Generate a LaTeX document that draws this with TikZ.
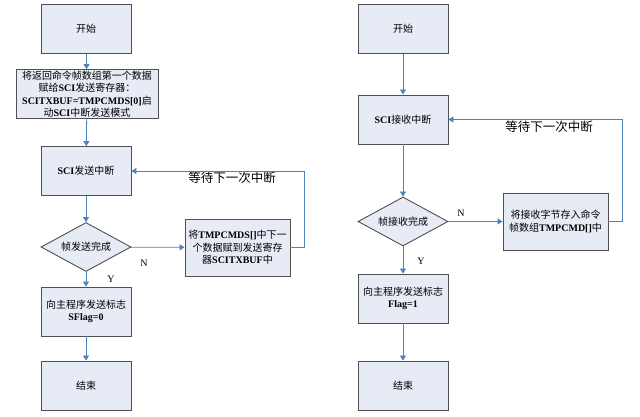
\documentclass[tikz,border=0pt]{standalone}
\usepackage{fontspec}
\setmainfont{Liberation Serif}
\newfontfamily\cjk{Noto Sans CJK SC}
\usetikzlibrary{shapes.geometric,arrows.meta}
\newcommand{\C}[1]{{\cjk\mdseries #1}}
\definecolor{boxfill}{HTML}{E6EBF5}
\definecolor{boxdraw}{HTML}{505050}
\definecolor{arrowblue}{HTML}{4F81BD}
\begin{document}
\begin{tikzpicture}[x=1pt,y=-1pt,
  every node/.style={font=\fontsize{10}{12.5}\selectfont\bfseries},
  pbox/.style={draw=boxdraw,fill=boxfill,line width=0.9pt,rectangle,inner sep=1pt,align=center},
  sbox/.style={pbox,minimum width=90pt,minimum height=49pt},
  dbox/.style={draw=boxdraw,fill=boxfill,line width=0.9pt,diamond,aspect=1.8,inner sep=0pt,minimum width=90pt,minimum height=49pt},
  arr/.style={draw=arrowblue,line width=0.8pt,-{Triangle[width=6pt,length=5pt]}},
  lbl/.style={font=\fontsize{12.5}{14}\selectfont},
  yn/.style={font=\fontsize{10}{12}\selectfont}
]
\useasboundingbox (0,0) rectangle (640,417);
% ---------- left flow ----------
\node[sbox] (ls) at (86,29) {\C{开始}};
\node[pbox,minimum width=142pt,minimum height=48pt,text width=138pt] (l2) at (87,94)
  {\C{将返回命令帧数组第一个数据}\\ \C{赋给}SCI\C{发送寄存器：}\\ SCITXBUF=TMPCMDS[0]\C{启}\\ \C{动}SCI\C{中断发送模式}};
\node[sbox] (li) at (86,171) {SCI\C{发送中断}};
\node[dbox] (ld) at (86,247) {\C{帧发送完成}};
\node[pbox,minimum width=105pt,minimum height=57pt,text width=100pt] (lt) at (237.5,247.5)
  {\C{将}TMPCMDS[]\C{中下一}\\ \C{个数据赋到发送寄存}\\ \C{器}SCITXBUF\C{中}};
\node[sbox] (lf) at (86,311.5) {\C{向主程序发送标志}\\ SFlag=0};
\node[sbox] (le) at (86,385.5) {\C{结束}};
\coordinate (lc1) at (304,247.5);
\coordinate (lc2) at (304,171);
\node[lbl] (lw) at (232,178) {\C{等待下一次中断}};
\node[yn] (ln) at (144,263) {N};
\node[yn] (ly) at (111,279) {Y};
\draw[arr] (ls) -- (l2);
\draw[arr] (l2) -- (li);
\draw[arr] (li) -- (ld);
\draw[arr] (ld) -- (lt);
\draw[arr] (ld) -- (lf);
\draw[arr] (lf) -- (le);
\draw[arr] (lt.east) -- (lc1) -- (lc2) -- (li.east);
% ---------- right flow ----------
\node[sbox] (rs) at (403,29) {\C{开始}};
\node[sbox] (ri) at (403,119.5) {SCI\C{接收中断}};
\node[dbox] (rd) at (403,221.5) {\C{帧接收完成}};
\node[pbox,minimum width=105pt,minimum height=57pt,text width=100pt] (rt) at (555.5,221.5)
  {\C{将接收字节存入命令}\\ \C{帧数组}TMPCMD[]\C{中}};
\node[sbox] (rf) at (403,298.5) {\C{向主程序发送标志}\\ Flag=1};
\node[sbox] (re) at (403,385.5) {\C{结束}};
\coordinate (rc1) at (622,221.5);
\coordinate (rc2) at (622,119.5);
\node[lbl] (rw) at (549,127) {\C{等待下一次中断}};
\node[yn] (rn) at (461,213) {N};
\node[yn] (ry) at (421,261) {Y};
\draw[arr] (rs) -- (ri);
\draw[arr] (ri) -- (rd);
\draw[arr] (rd) -- (rt);
\draw[arr] (rd) -- (rf);
\draw[arr] (rf) -- (re);
\draw[arr] (rt.east) -- (rc1) -- (rc2) -- (ri.east);
\end{tikzpicture}
\end{document}
